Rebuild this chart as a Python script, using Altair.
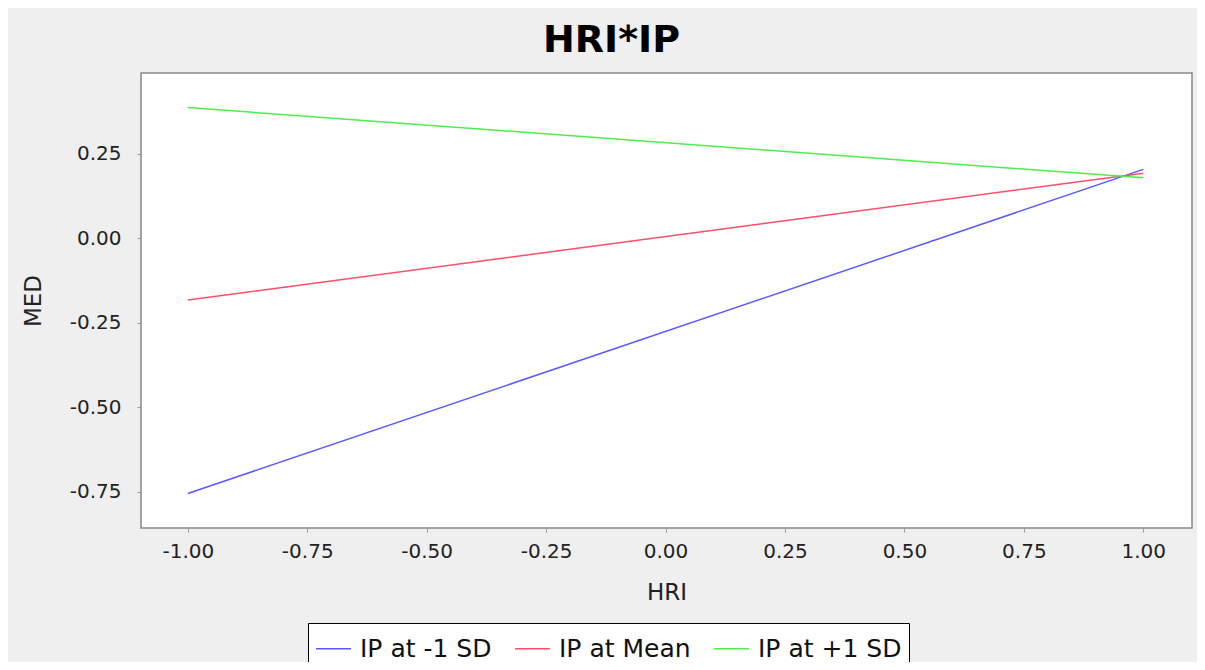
import altair as alt
import pandas as pd

series = ["IP at -1 SD", "IP at Mean", "IP at +1 SD"]
colors = ["#5a5aff", "#ff4d6a", "#4ded4d"]
hri = [-1.0, 1.0]
med_low = [-0.755, 0.203]
med_mean = [-0.183, 0.192]
med_high = [0.386, 0.178]
x_ticks = [-1.0, -0.75, -0.5, -0.25, 0.0, 0.25, 0.5, 0.75, 1.0]
y_ticks = [-0.75, -0.5, -0.25, 0.0, 0.25]

rows = []
for name, vals in zip(series, [med_low, med_mean, med_high]):
    for x, y in zip(hri, vals):
        rows.append({"HRI": x, "MED": y, "series": name})
df = pd.DataFrame(rows)

font = "DejaVu Sans"
label_expr = "replace(format(datum.value, '.2f'), '\u2212', '-')"

chart = alt.Chart(df).mark_line(strokeWidth=1.5).encode(
    x=alt.X("HRI:Q", scale=alt.Scale(domain=[-1.098, 1.102], nice=False, zero=False),
            axis=alt.Axis(values=x_ticks, labelExpr=label_expr, title="HRI", grid=False,
                          domain=False, tickColor="#999999", tickSize=4,
                          labelFont=font, labelFontSize=20, labelColor="#222222",
                          labelPadding=9, titleFont=font, titleFontSize=23,
                          titleFontWeight="normal", titleColor="#222222", titlePadding=20)),
    y=alt.Y("MED:Q", scale=alt.Scale(domain=[-0.857, 0.488], nice=False, zero=False),
            axis=alt.Axis(values=y_ticks, labelExpr=label_expr, title="MED", grid=False,
                          domain=False, tickColor="#999999", tickSize=4,
                          labelFont=font, labelFontSize=20, labelColor="#222222",
                          labelPadding=16, titleFont=font, titleFontSize=23,
                          titleFontWeight="normal", titleColor="#222222", titlePadding=24)),
    color=alt.Color("series:N", sort=series,
                    scale=alt.Scale(domain=series, range=colors),
                    legend=alt.Legend(title=None, orient="none", direction="horizontal",
                                      legendX=167, legendY=550,
                                      symbolType="stroke", symbolSize=1225, symbolStrokeWidth=1.5,
                                      labelFont=font, labelFontSize=25, labelColor="#111111",
                                      strokeColor="black", fillColor="white",
                                      padding=7, columnPadding=20, labelOffset=8)),
).properties(
    width=1051,
    height=455,
    title=alt.TitleParams("HRI*IP", font=font, fontSize=38, fontWeight="bold",
                          color="black", anchor="middle", offset=13, dx=-55),
    background="#efefef",
    padding={"left": 133, "top": 65, "right": 5, "bottom": 134},
    autosize=alt.AutoSizeParams(type="none"),
).configure_view(
    fill="white", stroke="#888888", strokeWidth=1.5
)

chart.save("out.html", embed_options={"renderer": "svg", "actions": False})
